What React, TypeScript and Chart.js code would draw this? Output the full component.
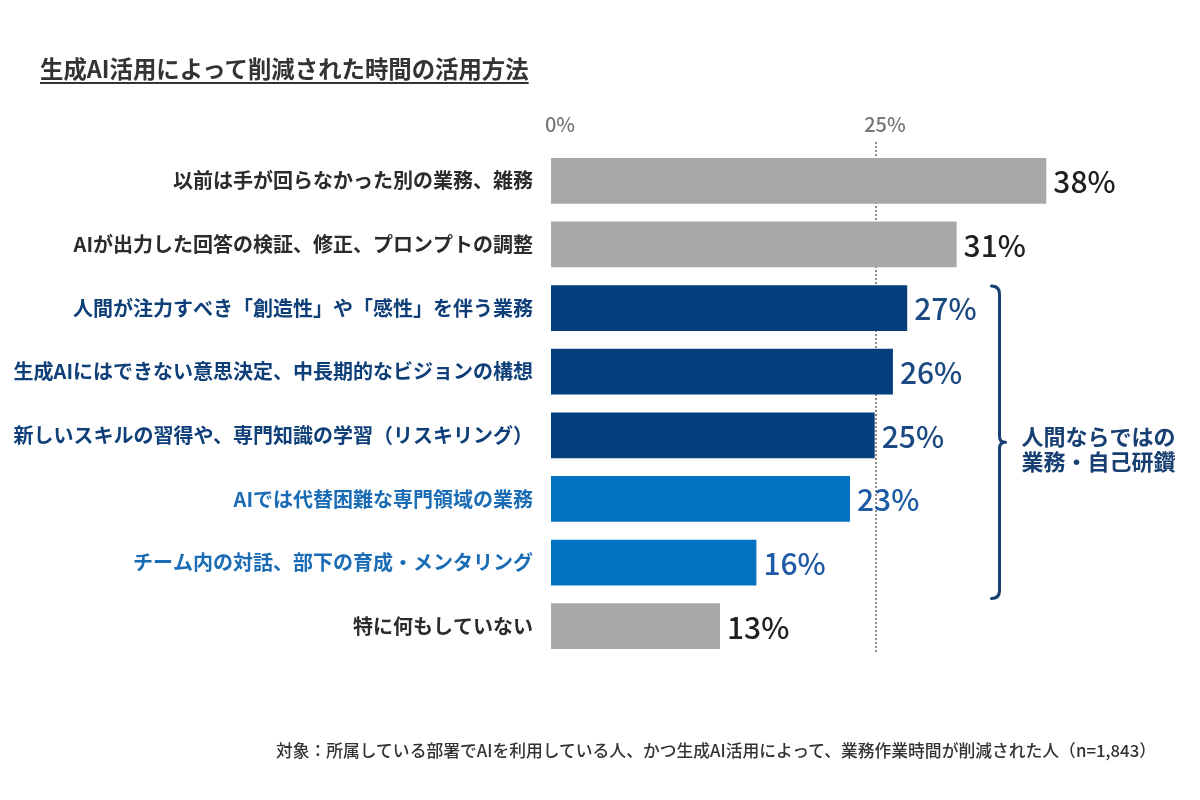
import { useEffect, useRef } from 'react';
import { Chart, registerables } from 'chart.js';

Chart.register(...registerables);

const titleText = '生成AI活用によって削減された時間の活用方法';
const noteText = '対象：所属している部署でAIを利用している人、かつ生成AI活用によって、業務作業時間が削減された人（n=1,843）';

const categories = [
  '以前は手が回らなかった別の業務、雑務',
  'AIが出力した回答の検証、修正、プロンプトの調整',
  '人間が注力すべき「創造性」や「感性」を伴う業務',
  '生成AIにはできない意思決定、中長期的なビジョンの構想',
  '新しいスキルの習得や、専門知識の学習（リスキリング）',
  'AIでは代替困難な専門領域の業務',
  'チーム内の対話、部下の育成・メンタリング',
  '特に何もしていない',
];
const values = [38.1, 31.2, 27.4, 26.3, 24.9, 23.0, 15.8, 13.0];
const groups = ['other', 'other', 'navy', 'navy', 'navy', 'blue', 'blue', 'other'];
const xTickValues = [0, 25];
const guideValue = 25;
const bracketLines = ['人間ならではの', '業務・自己研鑽'];
const bracketFrom = 2;
const bracketTo = 6;

const barColors: Record<string, string> = { other: '#a8a7aa', navy: '#033f7c', blue: '#0272c2' };
const labelColors: Record<string, string> = { other: '#2b2b2b', navy: '#0f3f78', blue: '#1a6cb5' };
const valueColors: Record<string, string> = { other: '#231f20', navy: '#1b4a82', blue: '#1f5aa6' };
const navyInk = '#173f72';

const FONT = "'Noto Sans CJK JP', 'Noto Sans', sans-serif";

const overlayPlugin = {
  id: 'overlay',
  beforeDatasetsDraw(chart: any) {
    const { ctx, scales } = chart;
    const x = scales.x.getPixelForValue(guideValue);
    ctx.save();
    ctx.strokeStyle = '#808080';
    ctx.lineWidth = 1.8;
    ctx.setLineDash([2, 2]);
    ctx.beginPath();
    ctx.moveTo(x, chart.chartArea.top - 7);
    ctx.lineTo(x, chart.chartArea.bottom - 6);
    ctx.stroke();
    ctx.restore();
  },
  afterDatasetsDraw(chart: any) {
    const { ctx, scales } = chart;
    const meta = chart.getDatasetMeta(0);
    ctx.save();
    ctx.font = `500 30px ${FONT}`;
    ctx.textAlign = 'left';
    ctx.textBaseline = 'middle';
    meta.data.forEach((el: any, i: number) => {
      ctx.fillStyle = valueColors[groups[i]];
      ctx.fillText(`${Math.round(values[i])}%`, el.x + 7, el.y + 1);
    });

    // bracket
    const yTop = scales.y.getPixelForValue(bracketFrom) - 22;
    const yBot = scales.y.getPixelForValue(bracketTo) + 36;
    const yMid = (yTop + yBot) / 2;
    const x0 = scales.x.getPixelForValue(34.5);
    ctx.strokeStyle = navyInk;
    ctx.lineWidth = 3;
    ctx.lineCap = 'round';
    ctx.lineJoin = 'round';
    ctx.beginPath();
    ctx.moveTo(x0 - 8, yTop);
    ctx.quadraticCurveTo(x0, yTop, x0, yTop + 8);
    ctx.lineTo(x0, yMid - 6);
    ctx.quadraticCurveTo(x0, yMid, x0 + 6, yMid);
    ctx.quadraticCurveTo(x0, yMid, x0, yMid + 6);
    ctx.lineTo(x0, yBot - 8);
    ctx.quadraticCurveTo(x0, yBot, x0 - 8, yBot);
    ctx.stroke();

    ctx.fillStyle = navyInk;
    ctx.font = `bold 22px ${FONT}`;
    ctx.textAlign = 'left';
    ctx.textBaseline = 'middle';
    ctx.fillText(bracketLines[0], x0 + 22, yMid - 6);
    ctx.fillText(bracketLines[1], x0 + 22, yMid + 19);
    ctx.restore();
  },
};

export default function App() {
  const ref = useRef<HTMLCanvasElement | null>(null);

  useEffect(() => {
    if (!ref.current) return;
    const chart = new Chart(ref.current, {
      type: 'bar',
      data: {
        labels: categories,
        datasets: [
          {
            data: values,
            backgroundColor: groups.map((g) => barColors[g]),
            borderWidth: 0,
            barPercentage: 0.72,
            categoryPercentage: 1,
          },
        ],
      },
      options: {
        indexAxis: 'y',
        responsive: false,
        animation: false,
        layout: { padding: { left: 0, right: 64, top: 0, bottom: 142 } },
        plugins: {
          legend: { display: false },
          tooltip: { enabled: false },
          title: { display: false },
        },
        scales: {
          x: {
            position: 'top',
            min: 0,
            max: 45,
            afterBuildTicks: (scale: any) => {
              scale.ticks = xTickValues.map((v) => ({ value: v }));
            },
            afterFit: (scale: any) => {
              scale.height = 149;
            },
            grid: { display: false, drawTicks: false },
            border: { display: false },
            ticks: {
              padding: 13,
              labelOffset: 9,
              color: '#777',
              font: { family: FONT, size: 20, weight: 500 },
              callback: (v: any) => `${v}%`,
            },
          },
          y: {
            afterFit: (scale: any) => {
              scale.width = 551;
            },
            grid: { display: false, drawTicks: false },
            border: { display: false },
            ticks: {
              padding: 18,
              color: (c: any) => labelColors[groups[c.index]],
              font: { family: FONT, size: 20, weight: 'bold' },
            },
          },
        },
      },
      plugins: [overlayPlugin],
    });
    return () => chart.destroy();
  }, []);

  return (
    <div style={{ position: 'fixed', left: 0, top: 0, width: 1200, height: 800, background: '#fff' }}>
      <canvas ref={ref} width={1200} height={800} style={{ position: 'absolute', left: 0, top: 0 }} />
      <div
        style={{
          position: 'absolute',
          left: 40,
          top: 54,
          fontFamily: FONT,
          fontWeight: 'bold',
          fontSize: 23.4,
          lineHeight: '28px',
          color: '#333',
          textDecoration: 'underline',
          textDecorationThickness: '2px',
          textUnderlineOffset: '4px',
          whiteSpace: 'nowrap',
        }}
      >
        {titleText}
      </div>
      <div
        style={{
          position: 'absolute',
          right: 44,
          top: 739,
          fontFamily: FONT,
          fontWeight: 500,
          fontSize: 16.8,
          lineHeight: '22px',
          color: '#333',
          whiteSpace: 'nowrap',
        }}
      >
        {noteText}
      </div>
    </div>
  );
}
